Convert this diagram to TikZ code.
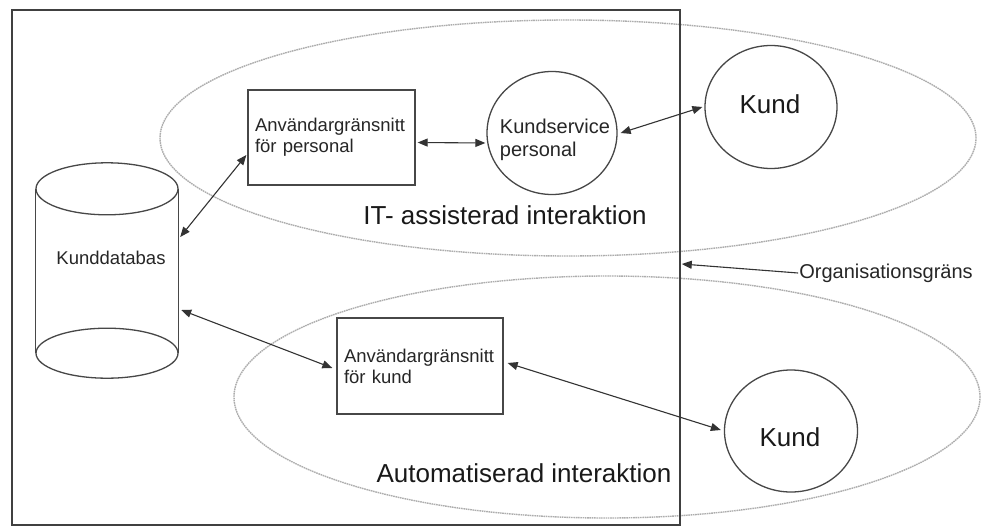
\documentclass[tikz,border=0pt]{standalone}
\usepackage{fontspec}
\setmainfont{Liberation Sans}
\usetikzlibrary{arrows.meta,calc,shapes.geometric}
\begin{document}
\begin{tikzpicture}[x=1pt,y=-1pt,
  ln/.style={draw=black!72, line width=1.3pt},
  zone/.style={draw=black!32, line width=1.4pt, dash pattern=on 1.6pt off 0.7pt, ellipse, inner sep=0pt},
  boxnode/.style={ln, rectangle, align=left, inner sep=7pt, font=\fontsize{18.5}{21}\selectfont, text=black!85},
  circ/.style={ln, ellipse, inner sep=0pt},
  smalltxt/.style={font=\fontsize{18.5}{21}\selectfont, text=black!85, inner sep=1pt},
  midtxt/.style={font=\fontsize{20}{23}\selectfont, text=black!85, inner sep=1pt},
  bigtxt/.style={font=\fontsize{26}{30}\selectfont, text=black!90, inner sep=1pt},
  biarrow/.style={draw=black!80, line width=1.1pt, {Triangle[length=10pt,width=8pt]}-{Triangle[length=10pt,width=8pt]}},
  onearrow/.style={draw=black!80, line width=1.1pt, -{Triangle[length=10pt,width=8pt]}}
]
\useasboundingbox (0,0) rectangle (984,527);
\fill[white] (0,0) rectangle (984,527);

% zones
\node[zone, minimum width=816, minimum height=236] (z1) at (568,138) {};
\node[zone, minimum width=746, minimum height=242] (z2) at (607,397) {};

% organisation boundary
\node[draw=black!75, line width=1.5pt, minimum width=668, minimum height=515, inner sep=0pt] (org) at (346,267.5) {};

% database cylinder
\node[minimum width=142, minimum height=164, inner sep=0pt] (db) at (107,271) {};
\draw[ln] (db.north) ellipse [x radius=71, y radius=26];
\draw[ln] (db.south) ellipse [x radius=71, y radius=25];
\draw[ln] (db.north west) -- (db.south west) (db.north east) -- (db.south east);
\node[smalltxt] (dbl) at (111,258) {Kunddatabas};

% boxes
\node[boxnode, minimum width=167, minimum height=95, text width=153] (p1) at (331.5,137.5) {Användargränsnitt\\för personal};
\node[boxnode, minimum width=166, minimum height=96, text width=152] (p2) at (420,366) {Användargränsnitt\\för kund};

% circles
\node[circ, minimum width=130, minimum height=123] (ks) at (552,133) {};
\node[midtxt, align=left] (kst) at (555,140) {Kundservice\\personal};
\node[circ, minimum width=132, minimum height=123] (k1) at (771,107) {};
\node[bigtxt] (k1t) at (770,104) {Kund};
\node[circ, minimum width=133, minimum height=122] (k2) at (791,431) {};
\node[bigtxt] (k2t) at (790,437) {Kund};

% labels
\node[bigtxt] (itl) at (505,215) {IT- assisterad interaktion};
\node[bigtxt] (aul) at (524,473) {Automatiserad interaktion};
\node[midtxt] (orgl) at (886,273) {Organisationsgräns};

% connectors
\draw[biarrow] ($(db.east)+(2,-34)$) -- ($(p1.west)+(-1,17.5)$);
\draw[biarrow] ($(p1.east)+(2,5)$) -- ($(ks.west)+(-1,10)$);
\draw[biarrow] ($(ks.east)+(3,0)$) -- ($(k1.west)+(-2,0)$);
\draw[biarrow] ($(db.east)+(3,39)$) -- ($(p2.west)+(-4,2)$);
\draw[biarrow] ($(p2.east)+(4,-3)$) -- ($(k2.west)+(-3,-1)$);
\draw[onearrow] (orgl.west) -- ($(org.east)+(1,-3.5)$);
\end{tikzpicture}
\end{document}
